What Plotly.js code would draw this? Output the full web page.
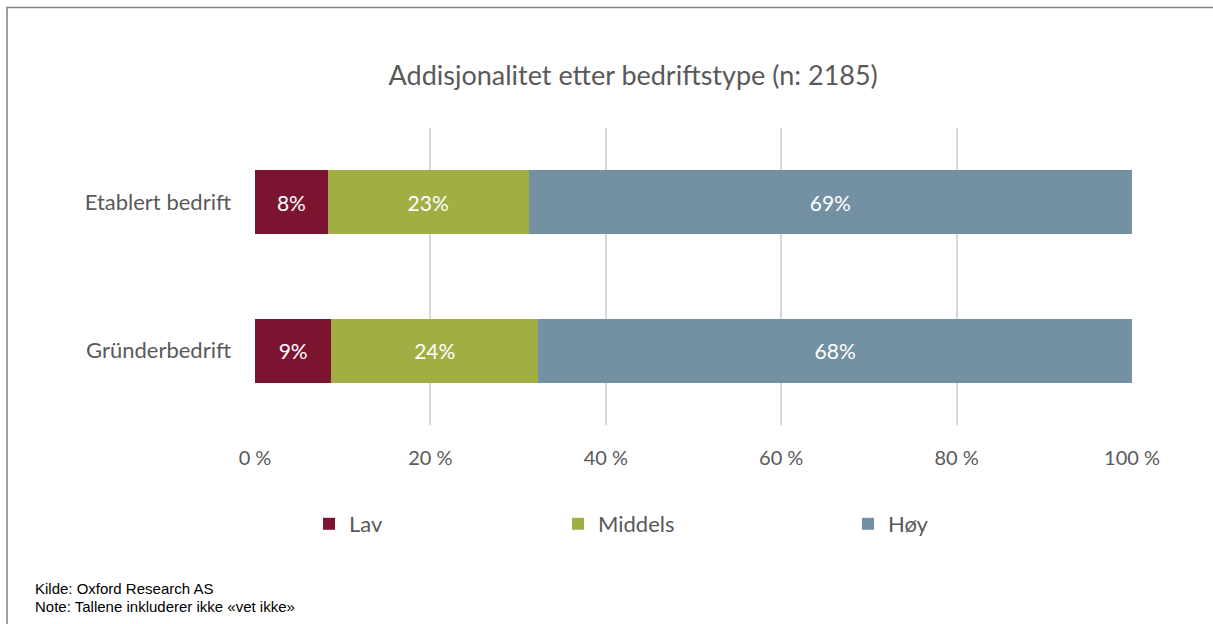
<!DOCTYPE html>
<html>
<head>
<meta charset="utf-8">
<script src="https://cdn.plot.ly/plotly-3.0.1.min.js"></script>
<style>
  body { margin: 0; background: #fff; }
  #myPlot { width: 1213px; height: 624px; }
</style>
</head>
<body>
<div id="myPlot"></div>
<script>
// categories, top to bottom
var categories = ['Etablert bedrift', 'Gründerbedrift']

// share in percent per level
var lavValues = [8.3, 8.7]
var middelsValues = [22.9, 23.6]
var hoyValues = [68.8, 67.7]

var seriesNames = ['Lav', 'Middels', 'Høy']
var xTicks = [0, 20, 40, 60, 80, 100]
var xTickText = xTicks.map(function (v) { return v + ' %' })

var mainFont = 'Lato, "Open Sans", sans-serif'
var noteFont = '"Liberation Sans Narrow", "Liberation Sans", Arial, sans-serif'
var grey = '#595959'

function barTrace(name, values, color, legendId) {
  return {
    type: 'bar', orientation: 'h',
    x: values, y: categories, name: name, legend: legendId,
    marker: {color: color, line: {width: 0}},
    texttemplate: '%{x:.0f}%', textposition: 'inside',
    insidetextanchor: 'middle',
    textfont: {color: '#ffffff', size: 21, family: mainFont},
    hoverinfo: 'x+name'
  }
}

var data = [
  barTrace(seriesNames[0], lavValues, '#7b1431', 'legend'),
  barTrace(seriesNames[1], middelsValues, '#a0ae43', 'legend2'),
  barTrace(seriesNames[2], hoyValues, '#7391a3', 'legend3')
]

// one legend per entry so each sits where Excel put it
function legendAt(px) {
  return {
    orientation: 'h',
    xref: 'container', x: px / 1213, xanchor: 'left',
    yref: 'container', y: 1 - 524 / 624, yanchor: 'middle',
    itemclick: false,
    font: {size: 22, color: grey}
  }
}

var layout = {
  width: 1213, height: 624,
  margin: {l: 255, r: 81, t: 127.5, b: 198.5},
  paper_bgcolor: '#ffffff', plot_bgcolor: '#ffffff',
  font: {family: mainFont, color: grey},
  barmode: 'stack', bargap: 0.57,
  showlegend: true,
  title: {
    text: 'Addisjonalitet etter bedriftstype (n: 2185)',
    font: {size: 27, color: grey, family: mainFont},
    xref: 'container', x: 0.522, xanchor: 'center',
    yref: 'container', y: 1 - 76 / 624, yanchor: 'middle'
  },
  xaxis: {
    range: [0, 100], tickmode: 'array', tickvals: xTicks, ticktext: xTickText,
    showgrid: true, gridcolor: '#d9d9d9', gridwidth: 2,
    zeroline: false, showline: false,
    ticks: '', ticklabelstandoff: 19,
    tickfont: {size: 20, color: grey}
  },
  yaxis: {
    autorange: 'reversed', showgrid: false, zeroline: false, showline: false,
    ticks: '', ticklabelstandoff: 23,
    tickfont: {size: 22, color: grey}
  },
  legend: legendAt(309),
  legend2: legendAt(558),
  legend3: legendAt(848),
  annotations: [
    {xref: 'paper', yref: 'paper', x: (33 - 255) / 877, y: (425.5 - 590) / 298,
     xanchor: 'left', yanchor: 'middle', showarrow: false,
     text: 'Kilde: Oxford Research AS',
     font: {family: noteFont, size: 15, color: '#000000'}},
    {xref: 'paper', yref: 'paper', x: (33 - 255) / 877, y: (425.5 - 608) / 298,
     xanchor: 'left', yanchor: 'middle', showarrow: false,
     text: 'Note: Tallene inkluderer ikke «vet ikke»',
     font: {family: noteFont, size: 15, color: '#000000'}}
  ],
  shapes: [
    {type: 'rect', xref: 'paper', yref: 'paper', layer: 'below',
     x0: (7 - 255) / 877, x1: 2, y0: -3, y1: (425.5 - 6.5) / 298,
     line: {color: '#808080', width: 1.5}, fillcolor: 'rgba(0,0,0,0)'}
  ]
}

Plotly.newPlot('myPlot', data, layout, {displayModeBar: false, staticPlot: true})
</script>
</body>
</html>
